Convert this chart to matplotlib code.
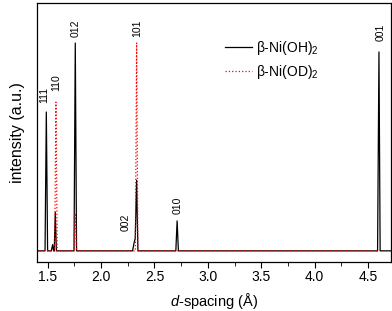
import matplotlib
matplotlib.use("Agg")
import matplotlib.pyplot as plt
from matplotlib.ticker import MultipleLocator

plt.rcParams['font.family'] = ['Liberation Sans', 'DejaVu Sans']
plt.rcParams['mathtext.fontset'] = 'custom'
plt.rcParams['mathtext.rm'] = 'Liberation Sans'
plt.rcParams['mathtext.it'] = 'Liberation Sans:italic'

# d-spacing / intensity points (baseline = 0, 012 peak = 100)
d_oh = [1.40, 1.476, 1.488, 1.500, 1.535, 1.547, 1.556, 1.562, 1.572, 1.582,
        1.747, 1.759, 1.771, 2.295, 2.310, 2.320, 2.333, 2.345,
        2.700, 2.712, 2.724, 4.588, 4.601, 4.612, 4.71]
i_oh = [0, 0, 66.8, 0, 0, 3, 0, 0, 18.5, 0,
        0, 100, 0, 0, 4, 6, 34, 0,
        0, 14.4, 0, 0, 95.7, 0, 0]

d_od = [1.40, 1.566, 1.578, 1.590, 1.747, 1.759, 1.771, 2.321, 2.333, 2.345, 4.59]
i_od = [0, 0, 71.6, 0, 0, 18, 0, 0, 100, 0, 0]

# hkl labels: text, d, intensity
hkl = ["111", "110", "012", "101", "002", "010", "001"]
hkl_d = [1.467, 1.580, 1.765, 2.335, 2.232, 2.719, 4.615]
hkl_i = [75, 81, 107, 107, 13.5, 22, 105]

fig = plt.figure(figsize=(3.92, 3.11), dpi=100)
ax = fig.add_axes([0.095, 0.158, 0.902, 0.832])

ax.plot(d_oh, i_oh, color="black", lw=0.9, label=r"β-Ni(OH)$_2$")
ax.plot(d_od, i_od, color="red", lw=0.9, ls=":", label=r"β-Ni(OD)$_2$")

for t, x, y in zip(hkl, hkl_d, hkl_i):
    ax.text(x, y, t, rotation=90, ha="center", va="center", fontsize=7.5)

ax.set_xlim(1.403, 4.712)
ax.set_ylim(-5.3, 119.2)
ax.xaxis.set_major_locator(MultipleLocator(0.5))
ax.xaxis.set_minor_locator(MultipleLocator(0.25))
ax.tick_params(axis="x", which="major", direction="out", length=4, labelsize=10, pad=2)
ax.tick_params(axis="x", which="minor", direction="out", length=3)
ax.set_yticks([])
for s in ax.spines.values():
    s.set_linewidth(0.9)

ax.set_xlabel(r"$d$-spacing (Å)", fontsize=10.5, labelpad=5)
ax.set_ylabel("intensity (a.u.)", fontsize=11.5, labelpad=9)

ax.legend(loc="upper left", bbox_to_anchor=(0.51, 0.89), frameon=False,
          fontsize=10, handlelength=2.0, handletextpad=0.3, labelspacing=0.45,
          borderpad=0)

fig.savefig("out.png", dpi=100)
